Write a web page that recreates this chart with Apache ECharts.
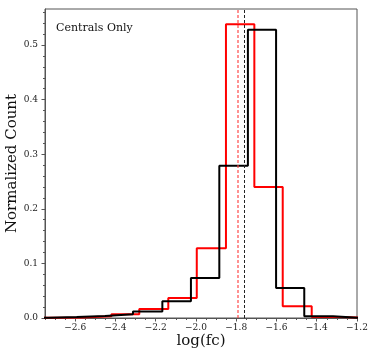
<!DOCTYPE html>
<html>
<head>
<meta charset="utf-8">
<script src="https://cdn.jsdelivr.net/npm/echarts@6/dist/echarts.min.js"></script>
<style>html,body{margin:0;padding:0;background:#fff}#c{width:374px;height:359px}</style>
</head>
<body>
<div id="c"></div>
<script>
// ---- data ----
var blackEdges = [-2.876, -2.734, -2.5925, -2.452, -2.313, -2.167, -2.025, -1.884, -1.742, -1.602, -1.462, -1.319, -1.177];
var blackValues = [0.0005, 0.0018, 0.0037, 0.0068, 0.012, 0.0306, 0.0733, 0.279, 0.528, 0.055, 0.003, 0.0];
var redEdges = [-2.846, -2.705, -2.564, -2.42, -2.2816, -2.1375, -1.996, -1.851, -1.710, -1.569, -1.425, -1.284, -1.143];
var redValues = [0.0005, 0.001, 0.003, 0.007, 0.0165, 0.0366, 0.1277, 0.538, 0.24, 0.0214, 0.002, 0.0];
var blackMedian = -1.756;
var redMedian = -1.788;
var xMajorTicks = [-2.6, -2.4, -2.2, -2.0, -1.8, -1.6, -1.4, -1.2];
var yMajorTicks = [0.0, 0.1, 0.2, 0.3, 0.4, 0.5];
var xMinorStep = 0.05;
var yMinorStep = 0.02;
var xRange = [-2.75, -1.2];
var yRange = [0, 0.566];
var annotation = 'Centrals Only';
var xLabel = 'log(fc)';
var yLabel = 'Normalized Count';

function stepPoints(edges, vals) {
  var pts = [[edges[0], 0]];
  for (var i = 0; i < vals.length; i++) {
    pts.push([edges[i], vals[i]]);
    pts.push([edges[i + 1], vals[i]]);
  }
  pts.push([edges[edges.length - 1], 0]);
  return pts;
}
function range(a, b, step) {
  var out = [];
  var n = Math.round((b - a) / step);
  for (var i = 0; i <= n; i++) out.push(+(a + i * step).toFixed(4));
  return out;
}
var xMinor = range(xRange[0], xRange[1], xMinorStep);
var yMinor = range(0, 0.56, yMinorStep);

var font = 'DejaVu Serif';
var axisColor = '#555';
var chart = echarts.init(document.getElementById('c'), null, {renderer: 'canvas'});
var fmtX = function (v) { return (v < 0 ? '\u2212' : '') + Math.abs(v).toFixed(1); };
chart.setOption({
  animation: false,
  backgroundColor: '#fff',
  grid: {left: 45, top: 9, width: 312, height: 309, show: true, borderColor: axisColor, borderWidth: 1, containLabel: false, outerBoundsMode: 'none'},
  xAxis: [{
    type: 'value', min: xRange[0], max: xRange[1],
    name: xLabel, nameLocation: 'middle', nameGap: 16, nameMoveOverlap: false,
    nameTextStyle: {fontFamily: font, fontSize: 15, color: '#111'},
    axisLine: {show: true, onZero: false, lineStyle: {color: axisColor, width: 1}},
    axisTick: {show: true, length: 3.5, customValues: xMajorTicks, lineStyle: {color: axisColor}},
    axisLabel: {show: true, customValues: xMajorTicks, formatter: fmtX, fontFamily: font, fontSize: 9, color: '#222', margin: 5},
    splitLine: {show: false}
  }, {
    type: 'value', min: xRange[0], max: xRange[1], position: 'bottom',
    axisLine: {show: false},
    axisTick: {show: true, length: 2, customValues: xMinor, lineStyle: {color: axisColor}},
    axisLabel: {show: false}, splitLine: {show: false}
  }],
  yAxis: [{
    type: 'value', min: yRange[0], max: yRange[1],
    name: yLabel, nameLocation: 'middle', nameGap: 25, nameMoveOverlap: false,
    nameTextStyle: {fontFamily: font, fontSize: 15, color: '#111'},
    axisLine: {show: true, onZero: false, lineStyle: {color: axisColor, width: 1}},
    axisTick: {show: true, length: 3.5, customValues: yMajorTicks, lineStyle: {color: axisColor}},
    axisLabel: {show: true, customValues: yMajorTicks, formatter: function (v) { return v.toFixed(1); }, fontFamily: font, fontSize: 9, color: '#222', margin: 7},
    splitLine: {show: false}
  }, {
    type: 'value', min: yRange[0], max: yRange[1], position: 'left',
    axisLine: {show: false},
    axisTick: {show: true, length: 2, customValues: yMinor, lineStyle: {color: axisColor}},
    axisLabel: {show: false}, splitLine: {show: false}
  }],
  graphic: [{
    type: 'text', left: 56, top: 23,
    style: {text: annotation, font: '11px "DejaVu Serif"', fill: '#111'}
  }],
  series: [{
    type: 'line', xAxisIndex: 0, yAxisIndex: 0, data: stepPoints(redEdges, redValues),
    showSymbol: false, symbol: 'none', clip: true,
    lineStyle: {color: '#ff0000', width: 2}, z: 2,
    markLine: {silent: true, symbol: 'none', label: {show: false},
      lineStyle: {color: 'rgba(255,60,60,0.75)', width: 1.5, type: [3, 2]},
      data: [{xAxis: redMedian}]}
  }, {
    type: 'line', xAxisIndex: 0, yAxisIndex: 0, data: stepPoints(blackEdges, blackValues),
    showSymbol: false, symbol: 'none', clip: true,
    lineStyle: {color: '#000', width: 2}, z: 3,
    markLine: {silent: true, symbol: 'none', label: {show: false},
      lineStyle: {color: '#222', width: 1, type: [3, 2]},
      data: [{xAxis: blackMedian}]}
  }]
});
</script>
</body>
</html>
